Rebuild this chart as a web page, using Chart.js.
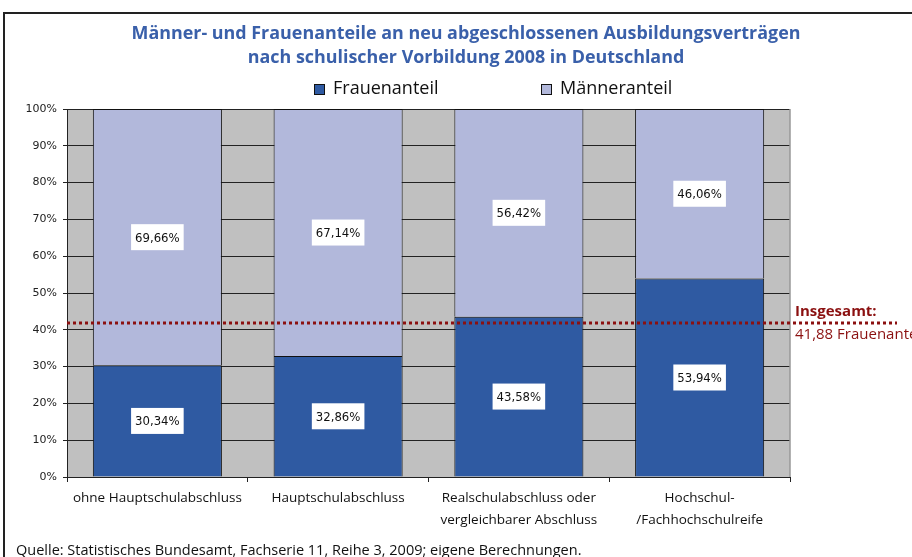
<!DOCTYPE html>
<html lang="de">
<head>
    <meta charset="UTF-8">
    <title>Männer- und Frauenanteile</title>
    <script src="https://cdn.jsdelivr.net/npm/chart.js"></script>
    <style>
        html, body { margin: 0; padding: 0; background: #fff; }
        #wrap { width: 912px; height: 557px; position: relative; }
    </style>
</head>
<body>
    <div id="wrap"><canvas id="chart" width="912" height="557"></canvas></div>

    <script>
        // data
        const categories = [
            ['ohne Hauptschulabschluss'],
            ['Hauptschulabschluss'],
            ['Realschulabschluss oder', 'vergleichbarer Abschluss'],
            ['Hochschul-', '/Fachhochschulreife']
        ];
        const frauenanteil = [30.34, 32.86, 43.58, 53.94];
        const maenneranteil = [69.66, 67.14, 56.42, 46.06];
        const insgesamtFrauen = 41.88;
        const titleLines = [
            'Männer- und Frauenanteile an neu abgeschlossenen Ausbildungsverträgen',
            'nach schulischer Vorbildung 2008 in Deutschland'
        ];
        const sourceText = 'Quelle: Statistisches Bundesamt, Fachserie 11, Reihe 3, 2009; eigene Berechnungen.';

        const FRAUEN = '#2F5AA2';
        const MAENNER = '#B2B8DB';
        const DARKRED = '#8B1010';
        const BLUE_TITLE = '#3A60AA';

        const fmt = v => v.toFixed(2).replace('.', ',') + '%';

        // gray plot background, frame lines, title, legend, source
        const decoPlugin = {
            id: 'deco',
            beforeDraw(chart) {
                const { ctx, chartArea: a } = chart;
                ctx.save();
                ctx.fillStyle = '#fff';
                ctx.fillRect(0, 0, chart.width, chart.height);
                ctx.fillStyle = '#C0C0C0';
                ctx.fillRect(a.left, a.top, a.right - a.left, a.bottom - a.top);

                // outer frame (top + left only)
                ctx.strokeStyle = '#222';
                ctx.lineWidth = 2;
                ctx.beginPath();
                ctx.moveTo(4, 557);
                ctx.lineTo(4, 13);
                ctx.lineTo(912, 13);
                ctx.stroke();

                // title
                ctx.fillStyle = BLUE_TITLE;
                ctx.font = 'bold 17.9px "Open Sans", sans-serif';
                ctx.textAlign = 'center';
                ctx.textBaseline = 'middle';
                ctx.fillText(titleLines[0], 466, 34);
                ctx.fillText(titleLines[1], 466, 58);

                // legend
                const items = [
                    { label: 'Frauenanteil', color: FRAUEN, x: 314 },
                    { label: 'Männeranteil', color: MAENNER, x: 541 }
                ];
                ctx.font = '18px "Open Sans", sans-serif';
                ctx.textAlign = 'left';
                items.forEach(it => {
                    ctx.fillStyle = it.color;
                    ctx.fillRect(it.x, 84, 10, 10);
                    ctx.strokeStyle = '#111';
                    ctx.lineWidth = 1;
                    ctx.strokeRect(it.x + 0.5, 84.5, 10, 10);
                    ctx.fillStyle = '#111';
                    ctx.fillText(it.label, it.x + 19, 89);
                });

                // source
                ctx.font = '14.5px "Open Sans", sans-serif';
                ctx.fillStyle = '#111';
                ctx.fillText(sourceText, 16, 551);
                ctx.restore();
            },
            afterDatasetsDraw(chart) {
                const { ctx, chartArea: a } = chart;
                ctx.save();
                // right plot edge
                ctx.strokeStyle = '#999';
                ctx.lineWidth = 1.5;
                ctx.beginPath();
                ctx.moveTo(a.right, a.top);
                ctx.lineTo(a.right, a.bottom);
                ctx.stroke();

                // value labels in white boxes
                ctx.font = '13px "DejaVu Sans Condensed", "DejaVu Sans", sans-serif';
                ctx.textAlign = 'center';
                ctx.textBaseline = 'middle';
                chart.data.datasets.forEach((ds, di) => {
                    chart.getDatasetMeta(di).data.forEach((bar, i) => {
                        const txt = fmt(ds.data[i]);
                        const w = ctx.measureText(txt).width + 8;
                        const h = 26;
                        const cy = (bar.y + bar.base) / 2;
                        ctx.fillStyle = '#fff';
                        ctx.fillRect(bar.x - w / 2, cy - h / 2, w, h);
                        ctx.fillStyle = '#111';
                        ctx.fillText(txt, bar.x, cy + 1);
                    });
                });

                // overall average line
                const y = chart.scales.y.getPixelForValue(insgesamtFrauen);
                ctx.strokeStyle = DARKRED;
                ctx.lineWidth = 3;
                ctx.setLineDash([3, 3]);
                ctx.beginPath();
                ctx.moveTo(a.left, y);
                ctx.lineTo(897, y);
                ctx.stroke();
                ctx.setLineDash([]);

                ctx.fillStyle = DARKRED;
                ctx.textAlign = 'left';
                ctx.font = 'bold 15px "Open Sans", sans-serif';
                ctx.fillText('Insgesamt:', 795, y - 11);
                ctx.font = '15px "Open Sans", sans-serif';
                ctx.fillText(insgesamtFrauen.toFixed(2).replace('.', ',') + ' Frauenanteil', 795, y + 12);
                ctx.restore();
            }
        };

        const ctx = document.getElementById('chart').getContext('2d');
        const chart = new Chart(ctx, {
            type: 'bar',
            data: {
                labels: categories,
                datasets: [
                    {
                        label: 'Frauenanteil',
                        data: frauenanteil,
                        backgroundColor: FRAUEN,
                        borderColor: '#111',
                        borderWidth: 1
                    },
                    {
                        label: 'Männeranteil',
                        data: maenneranteil,
                        backgroundColor: MAENNER,
                        borderColor: '#111',
                        borderWidth: 1
                    }
                ]
            },
            options: {
                responsive: false,
                animation: false,
                layout: {
                    padding: { left: 4, top: 109, right: 122, bottom: 20 }
                },
                plugins: {
                    legend: { display: false },
                    title: { display: false },
                    tooltip: { enabled: false }
                },
                datasets: {
                    bar: { barPercentage: 1, categoryPercentage: 0.714 }
                },
                scales: {
                    x: {
                        stacked: true,
                        afterFit: s => { s.height = 60; },
                        grid: {
                            offset: true,
                            drawOnChartArea: false,
                            drawTicks: true,
                            tickLength: 5,
                            color: '#222'
                        },
                        border: { color: '#222', width: 1 },
                        ticks: {
                            color: '#111',
                            padding: 5,
                            maxRotation: 0,
                            autoSkip: false,
                            font: { family: '"Open Sans", sans-serif', size: 13.5, lineHeight: 1.63 }
                        }
                    },
                    y: {
                        stacked: true,
                        min: 0,
                        max: 100,
                        afterFit: s => { s.width = 63; },
                        grid: {
                            color: '#222',
                            lineWidth: 1,
                            tickLength: 4
                        },
                        border: { color: '#222', width: 1 },
                        ticks: {
                            stepSize: 10,
                            padding: 6,
                            color: '#222',
                            font: { family: '"DejaVu Sans", sans-serif', size: 11 },
                            callback: v => v + '%'
                        }
                    }
                }
            },
            plugins: [decoPlugin]
        });
    </script>
</body>
</html>
